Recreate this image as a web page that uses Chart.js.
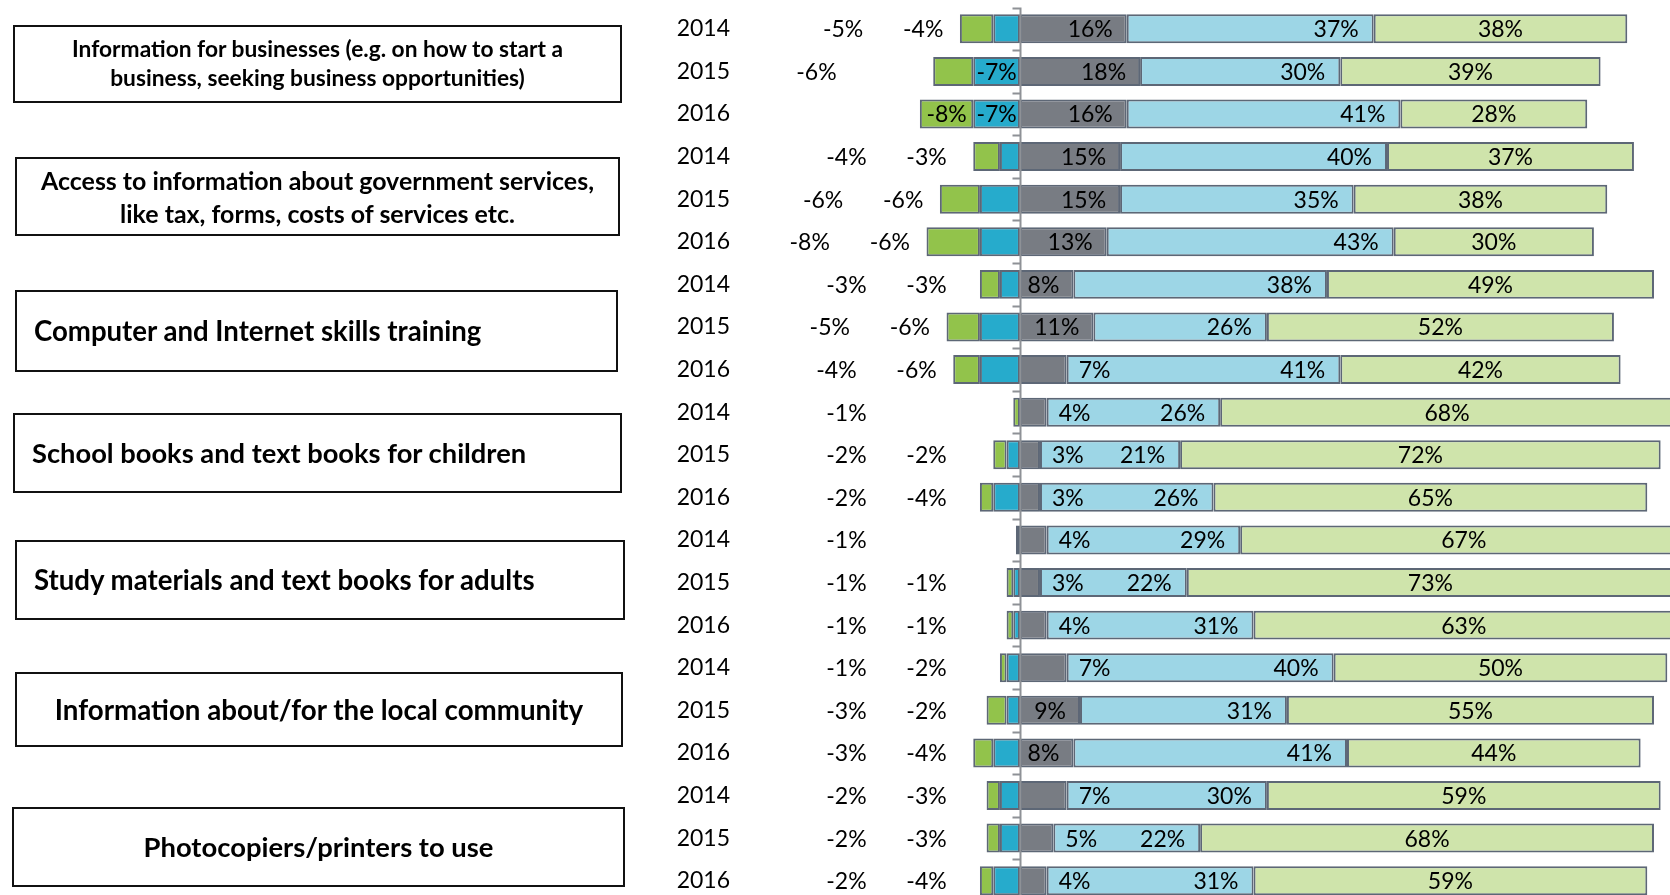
<!DOCTYPE html>
<html>
<head>
<meta charset="utf-8">
<script src="https://cdn.jsdelivr.net/npm/chart.js@4.4.1/dist/chart.umd.min.js"></script>
<style>
html, body { margin:0; padding:0; background:#fff; overflow:hidden; width:1670px; height:895px; }
#wrap { position:absolute; left:0; top:0; width:1670px; height:910px; }
.box { position:absolute; box-sizing:border-box; border:2px solid #111; display:flex; align-items:center;
       font-family:Lato, 'Open Sans', sans-serif; font-weight:700; color:#000; white-space:pre; }
</style>
</head>
<body>
<div id="wrap"><canvas id="chart"></canvas></div>
<script>
// category groups (three survey years each)
const groups = [
  'Information for businesses (e.g. on how to start a\nbusiness, seeking business opportunities)',
  'Access to information about government services,\nlike tax, forms, costs of services etc.',
  'Computer and Internet skills training',
  'School books and text books for children',
  'Study materials and text books for adults',
  'Information about/for the local community',
  'Photocopiers/printers to use'
];
const years = ['2014','2015','2016','2014','2015','2016','2014','2015','2016','2014','2015','2016',
               '2014','2015','2016','2014','2015','2016','2014','2015','2016'];

// negative side (outer green, inner blue), neutral grey, positive side (light blue, light green)
const negStrong = [-5,-6,-8,-4,-6,-8,-3,-5,-4,-1,-2,-2,-0.6,-1,-1,-1,-3,-3,-2,-2,-2];
const negMild   = [-4,-7,-7,-3,-6,-6,-3,-6,-6, 0,-2,-4, 0,-1,-1,-2,-2,-4,-3,-3,-4];
const neutral   = [16,18,16,15,15,13, 8,11, 7, 4, 3, 3, 4, 3, 4, 7, 9, 8, 7, 5, 4];
const posMild   = [37,30,41,40,35,43,38,26,41,26,21,26,29,22,31,40,31,41,30,22,31];
const posStrong = [38,39,28,37,38,30,49,52,42,68,72,65,67,73,63,50,55,44,59,68,59];

// left-hand boxes
const boxes = [
  {x:13, y:25,  w:609, h:78, align:'center', tw:492, lh:28.7},
  {x:15, y:157, w:605, h:79, align:'center', tw:553, lh:33},
  {x:15, y:290, w:603, h:82, align:'left',   tw:448, pad:19},
  {x:13, y:413, w:609, h:80, align:'left',   tw:495, pad:19},
  {x:15, y:540, w:610, h:80, align:'left',   tw:502, pad:19},
  {x:15, y:672, w:608, h:75, align:'center', tw:529},
  {x:12, y:807, w:613, h:80, align:'center', tw:350}
];

const mctx = document.createElement('canvas').getContext('2d');
mctx.font = 'bold 100px Lato';
groups.forEach((txt, i) => {
  const b = boxes[i];
  const widest = Math.max(...txt.split('\n').map(l => mctx.measureText(l).width));
  const size = 100 * b.tw / widest;
  const d = document.createElement('div');
  d.className = 'box';
  d.style.left = b.x + 'px'; d.style.top = b.y + 'px';
  d.style.width = b.w + 'px'; d.style.height = b.h + 'px';
  d.style.fontSize = size.toFixed(2) + 'px';
  d.style.lineHeight = b.lh ? b.lh + 'px' : '1.2';
  d.style.justifyContent = b.align === 'center' ? 'center' : 'flex-start';
  d.style.textAlign = b.align;
  if (b.pad) d.style.paddingLeft = (b.pad - 2) + 'px';
  d.textContent = txt;
  document.body.appendChild(d);
});

function fmt(v) {
  const r = Math.round(Math.abs(v));
  return (v < 0 ? '-' : '') + r + '%';
}

const axisPlugin = {
  id: 'zeroAxis',
  afterDatasetsDraw(chart) {
    const ctx = chart.ctx, xs = chart.scales.x, ys = chart.scales.y, a = chart.chartArea;
    const x0 = Math.round(xs.getPixelForValue(0)) + 0.5;
    const step = (ys.getPixelForValue(1) - ys.getPixelForValue(0));
    ctx.save();
    ctx.strokeStyle = '#8e9196';
    ctx.lineWidth = 2;
    ctx.beginPath();
    ctx.moveTo(x0, a.top); ctx.lineTo(x0, a.bottom);
    for (let i = 0; i <= years.length; i++) {
      const yy = Math.round(ys.getPixelForValue(i) - step / 2) + 0.5;
      ctx.moveTo(x0 - 8, yy); ctx.lineTo(x0, yy);
    }
    ctx.stroke();
    ctx.restore();
  }
};

const labelPlugin = {
  id: 'segLabels',
  afterDatasetsDraw(chart) {
    const ctx = chart.ctx, xs = chart.scales.x, ys = chart.scales.y;
    ctx.save();
    ctx.font = '23px Lato';
    ctx.fillStyle = '#000';
    ctx.textBaseline = 'middle';
    years.forEach((yr, i) => {
      const cy = ys.getPixelForValue(i) + 1;
      const g = neutral[i], b = posMild[i], l = posStrong[i];
      const gEnd = xs.getPixelForValue(g);
      if (g >= 8) { ctx.textAlign = 'right'; ctx.fillText(fmt(g), gEnd - 14, cy); }
      else { ctx.textAlign = 'left'; ctx.fillText(fmt(g), gEnd + 12, cy); }
      ctx.textAlign = 'right';
      ctx.fillText(fmt(b), xs.getPixelForValue(g + b) - 15, cy);
      ctx.textAlign = 'center';
      ctx.fillText(fmt(l), xs.getPixelForValue(g + b + l / 2), cy);
      const nb = negMild[i], ng = negStrong[i];
      const bIn = Math.abs(nb) >= 7, gIn = bIn && Math.abs(ng) >= 7;
      const outB = Math.min(-14, nb + ng - 5.5);
      if (nb !== 0) ctx.fillText(fmt(nb), xs.getPixelForValue(bIn ? nb / 2 : outB), cy);
      if (ng !== 0) ctx.fillText(fmt(ng), xs.getPixelForValue(gIn ? nb + ng / 2 : outB - 12), cy);
    });
    ctx.restore();
  }
};

function ds(label, data, color) {
  return {
    label: label, data: data, backgroundColor: color,
    borderColor: '#5d6776',
    borderWidth: c => (c.raw === 0 ? 0 : 2),
    borderSkipped: false,
    barPercentage: 0.68, categoryPercentage: 1
  };
}

new Chart(document.getElementById('chart'), {
  type: 'bar',
  data: {
    labels: years,
    datasets: [
      ds('Neutral', neutral, '#787c83'),
      ds('Positive', posMild, '#9dd6e6'),
      ds('Very positive', posStrong, '#cfe4ab'),
      ds('Negative', negMild, '#26abcc'),
      ds('Very negative', negStrong, '#92c34b')
    ]
  },
  options: {
    indexAxis: 'y',
    responsive: true,
    maintainAspectRatio: false,
    animation: false,
    layout: { padding: { top: 7.5, bottom: 8, left: 0, right: 0 } },
    plugins: { legend: { display: false }, tooltip: { enabled: false } },
    scales: {
      x: { display: false, stacked: true, min: -40, max: 97.4 },
      y: {
        stacked: true,
        grid: { display: false, drawTicks: false },
        border: { display: false },
        ticks: { font: { family: 'Lato', size: 23 }, color: '#000', padding: 23, autoSkip: false },
        afterFit(s) { s.width = 753; s.paddingTop = 0; s.paddingBottom = 0; }
      }
    }
  },
  plugins: [axisPlugin, labelPlugin]
});
</script>
</body>
</html>
